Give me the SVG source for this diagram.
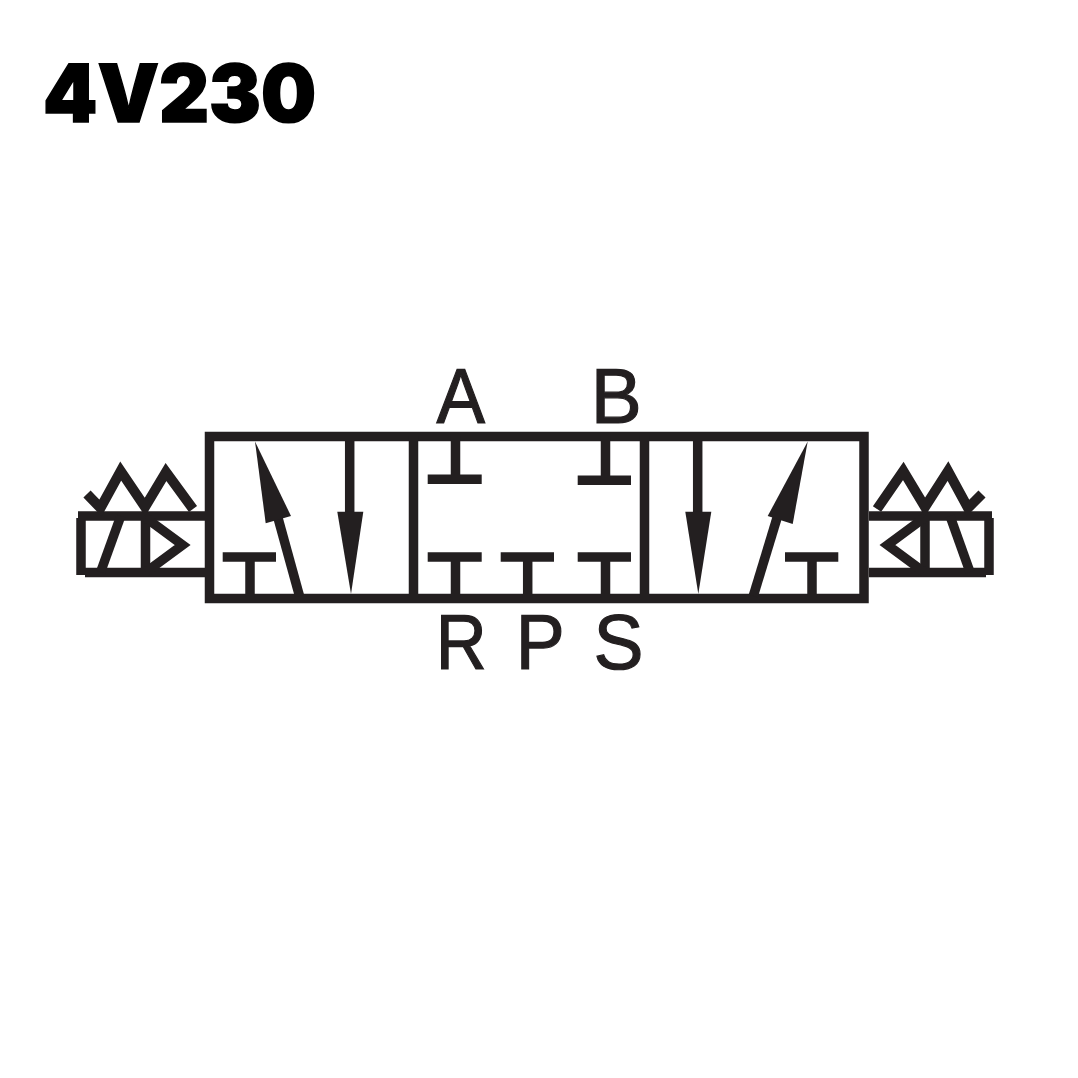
<svg xmlns="http://www.w3.org/2000/svg" width="1078" height="1078" viewBox="0 0 1078 1078">
<style>
.l{fill:none;stroke:#231f20;stroke-width:9.5;stroke-linejoin:miter;stroke-linecap:butt}
.s{fill:none;stroke:#231f20;stroke-width:10;stroke-linejoin:miter;stroke-linecap:butt}
.h{fill:#231f20;stroke:none}
.p{font-family:"Liberation Sans",Arial,sans-serif;font-size:78px;fill:#231f20;stroke:#231f20;stroke-width:1.200;text-rendering:geometricPrecision}
.t{font-family:"Inter","Liberation Sans",sans-serif;font-weight:900;font-size:80px;fill:#000;stroke:#000;stroke-width:1.500;text-rendering:geometricPrecision}
</style>
<rect width="1078" height="1078" fill="#fff"/>
<g id="title"><text class="t" x="43" y="121.500" textLength="273" lengthAdjust="spacingAndGlyphs">4V230</text></g>
<g id="valve-body">
<rect class="l" x="209.500" y="436.500" width="654.500" height="162"/>
<path class="l" d="M413.500 436V598M644.500 436V598"/>
</g>
<g id="left-solenoid">
<path class="l" d="M205 516H78M81 518V575M85 572.500H205M145.500 516V572"/>
<path class="l" d="M120.800 516L100.600 572"/>
<path class="l" d="M146 518L182.600 545L146 572"/>
<path class="s" d="M87 494L100.500 508L120.700 471L145 507L166 472L193 509"/>
</g>
<g id="right-solenoid">
<path class="l" d="M869 516H992M989 518V575M986 572.500H869M925 516V572"/>
<path class="l" d="M950 516L970 572"/>
<path class="l" d="M924 518L887.500 545L924 572"/>
<path class="s" d="M982 494L968 508L948 471L925 507L903.300 471L877 509"/>
</g>
<g id="connectors">
<path class="l" d="M278 518L299.500 596"/>
<polygon class="h" points="255,441.500 291,516 265.700,523.300"/>
<path class="l" d="M349.700 440V515"/>
<polygon class="h" points="337.300,511.700 363.300,511.700 351,594"/>
<path class="l" d="M777 518L753.300 596"/>
<polygon class="h" points="807.700,441.500 767.700,516 792.700,524"/>
<path class="l" d="M697.700 440V515"/>
<polygon class="h" points="685.300,511.700 711.300,511.700 698.300,594"/>
</g>
<g id="port-stops">
<path class="l" d="M222.700 557H276M250 557V598"/>
<path class="l" d="M785 557H838.300M812 557V598"/>
<path class="l" d="M427.700 479.300H481.700M455.500 479V436"/>
<path class="l" d="M577.700 480.300H631M605.500 480V436"/>
<path class="l" d="M427.700 557H481.700M455.500 557V598"/>
<path class="l" d="M500.700 557H554M527.700 557V598"/>
<path class="l" d="M577.700 557H631M605.500 557V598"/>
</g>
<g id="port-labels">
<text class="p" x="436.500" y="423" textLength="48.500" lengthAdjust="spacingAndGlyphs">A</text>
<text class="p" x="590.700" y="423" textLength="51" lengthAdjust="spacingAndGlyphs">B</text>
<text class="p" x="435.700" y="668.500" textLength="51" lengthAdjust="spacingAndGlyphs">R</text>
<text class="p" x="515.700" y="668.500" textLength="49" lengthAdjust="spacingAndGlyphs">P</text>
<text class="p" x="593.600" y="668.500" textLength="50" lengthAdjust="spacingAndGlyphs">S</text>
</g>
</svg>
